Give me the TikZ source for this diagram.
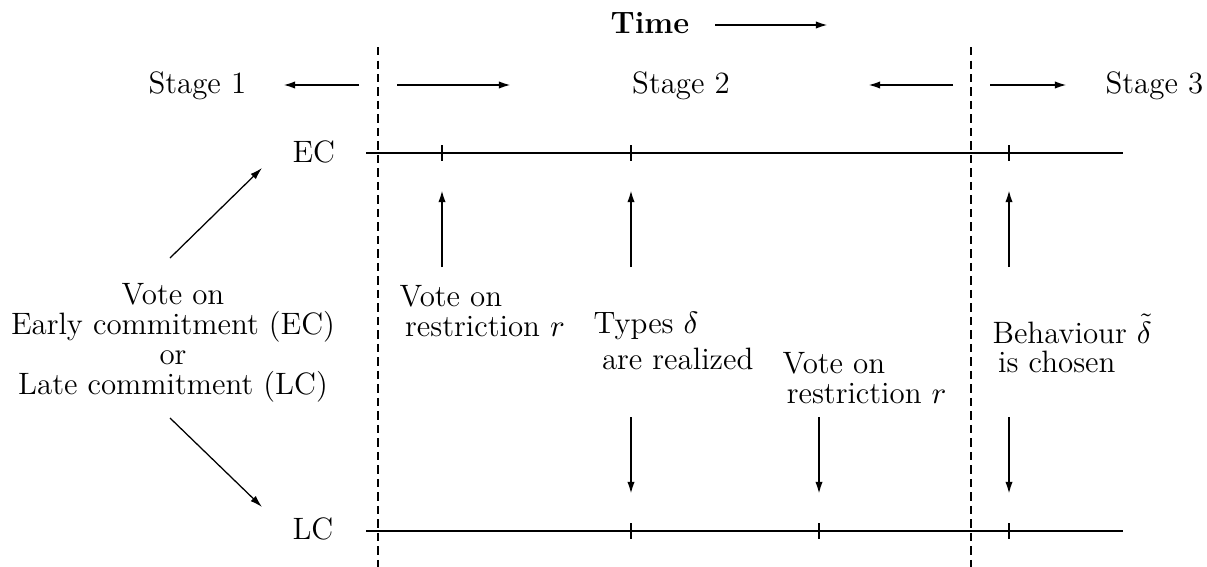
\documentclass[tikz,border=0pt]{standalone}
\usepackage{amsmath}
\usetikzlibrary{arrows.meta}
\usetikzlibrary{positioning}

\begin{document}
\begin{tikzpicture}[x=0.0125cm,y=-0.0125cm,
	txt/.style={font=\fontsize{11}{10.7}\selectfont, inner sep=0pt},
	arr/.style={-{Latex[length=4.3pt,width=2.6pt]}, line width=0.7pt},
	thinarr/.style={-{Latex[length=4.3pt,width=2.6pt]}, line width=0.45pt},
	stagesep/.style={line width=0.6pt, dash pattern=on 2.9pt off 1.9pt},
	tline/.style={line width=0.7pt}]
	\useasboundingbox (0,0) rectangle (1207,567);

	% time
	\node[txt, anchor=base west] (time) at (610,33) {\textbf{Time}};
	\coordinate (t0) at (715,25);
	\coordinate (t1) at (828,25);
	\draw[arr] (t0) -- (t1);

	% stages
	\node[txt, anchor=base west] (stage1) at (148,93) {Stage 1};
	\node[txt, anchor=base] (stage2) at (681,93) {Stage 2};
	\node[txt, anchor=base west] (stage3) at (1105,93) {Stage 3};
	\coordinate (s1a) at (359,85);
	\coordinate (s1b) at (283,85);
	\coordinate (s2a) at (397,85);
	\coordinate (s2b) at (511,85);
	\coordinate (s2c) at (953,85);
	\coordinate (s2d) at (868,85);
	\coordinate (s3a) at (990,85);
	\coordinate (s3b) at (1067,85);
	\draw[arr] (s1a) -- (s1b);
	\draw[arr] (s2a) -- (s2b);
	\draw[arr] (s2c) -- (s2d);
	\draw[arr] (s3a) -- (s3b);

	% dashed separators
	\coordinate (sepA) at (378,47);
	\coordinate (sepB) at (971,47);
	\draw[stagesep] (sepA) -- (378,567);
	\draw[stagesep] (sepB) -- (971,567);

	% the two time lines
	\node[txt, anchor=base west] (ec) at (292,162) {EC};
	\node[txt, anchor=base west] (lc) at (292,539) {LC};
	\coordinate (ec0) at (366,153);
	\coordinate (ec1) at (1123,153);
	\coordinate (lc0) at (366,531);
	\coordinate (lc1) at (1123,531);
	\draw[tline] (ec0) -- (ec1);
	\draw[tline] (lc0) -- (lc1);
	% ticks
	\draw[tline] (442,145) -- (442,161);
	\draw[tline] (631,145) -- (631,161);
	\draw[tline] (1009,145) -- (1009,161);
	\draw[tline] (631,523) -- (631,539);
	\draw[tline] (819,523) -- (819,539);
	\draw[tline] (1009,523) -- (1009,539);

	% choice in stage 1
	\node[txt, anchor=north, align=center] (vote) at (173,283)
		{Vote on\\ Early commitment (EC)\\ or\\ Late commitment (LC)};
	\coordinate (up0) at (170,258);
	\coordinate (up1) at (262,168);
	\coordinate (dn0) at (170,418);
	\coordinate (dn1) at (262,507);
	\draw[thinarr] (up0) -- (up1);
	\draw[thinarr] (dn0) -- (dn1);

	% events
	\node[txt, anchor=north west, align=left] (restrEC) at (399,285)
		{Vote on\\ \hspace*{2pt}restriction $r$};
	\node[txt, anchor=north west, align=left] (types) at (593,312)
		{Types $\delta$\\[1.8pt] \hspace*{3pt}are realized};
	\node[txt, anchor=north west, align=left] (restrLC) at (782,352)
		{Vote on\\ \hspace*{1.5pt}restriction $r$};
	\node[txt, anchor=north west, align=left] (behav) at (992,321)
		{Behaviour $\smash{\tilde{\delta}}$\\[-0.3pt] \hspace*{2pt}is chosen};

	\coordinate (a1) at (442,267);
	\coordinate (a1e) at (442,190);
	\coordinate (a2) at (631,267);
	\coordinate (a2e) at (631,190);
	\coordinate (a3) at (1009,267);
	\coordinate (a3e) at (1009,190);
	\draw[arr] (a1) -- (a1e);
	\draw[arr] (a2) -- (a2e);
	\draw[arr] (a3) -- (a3e);

	\coordinate (b1) at (631,417);
	\coordinate (b1e) at (631,494);
	\coordinate (b2) at (819,417);
	\coordinate (b2e) at (819,494);
	\coordinate (b3) at (1009,417);
	\coordinate (b3e) at (1009,494);
	\draw[arr] (b1) -- (b1e);
	\draw[arr] (b2) -- (b2e);
	\draw[arr] (b3) -- (b3e);
\end{tikzpicture}
\end{document}
